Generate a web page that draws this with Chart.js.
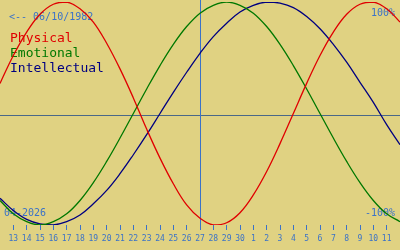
<!DOCTYPE html>
<html lang="en">
<head>
    <meta charset="UTF-8">
    <title>Biorhythm</title>
    <style>
        html, body { margin: 0; padding: 0; background: #e0d282; }
        #bioChart { display: block; }
    </style>
</head>
<body>
    <canvas id="bioChart" width="400" height="250"></canvas>

    <script src="https://cdn.jsdelivr.net/npm/chart.js"></script>
    <script>
        // days shown: 12 April -> 12 May 2026
        const days = ['12', '13', '14', '15', '16', '17', '18', '19', '20', '21', '22', '23', '24', '25', '26',
            '27', '28', '29', '30', '1', '2', '3', '4', '5', '6', '7', '8', '9', '10', '11', '12'];
        const todayIndex = 15;

        // values in percent
        const physical = [27, 52, 73, 89, 98, 100, 94, 82, 63, 40, 14, -14, -40, -63, -82, -94,
            -100, -98, -89, -73, -52, -27, 0, 27, 52, 73, 89, 98, 100, 94, 82];
        const emotional = [-78, -90, -97, -100, -97, -90, -78, -62, -43, -22, 0, 22, 43, 62, 78, 90,
            97, 100, 97, 90, 78, 62, 43, 22, 0, -22, -43, -62, -78, -90, -97];
        const intellectual = [-76, -87, -95, -99, -100, -97, -91, -81, -69, -54, -37, -19, 0, 19, 37, 54,
            69, 81, 91, 97, 100, 99, 95, 87, 76, 62, 46, 28, 10, -10, -28];

        const birthText = '<-- 06/10/1982';
        const monthText = '04-2026';
        const topText = '100%';
        const bottomText = '-100%';

        const blue = '#3a72c8';
        const colRed = '#e00000';
        const colGreen = '#007800';
        const colNavy = '#000080';
        const mono = '"DejaVu Sans Mono", monospace';

        // background, axis lines and captions
        const decor = {
            id: 'decor',
            beforeDraw(chart) {
                const ctx = chart.ctx;
                ctx.save();
                ctx.fillStyle = '#e0d282';
                ctx.fillRect(0, 0, chart.width, chart.height);
                ctx.restore();
            },
            beforeDatasetsDraw(chart) {
                const ctx = chart.ctx;
                const area = chart.chartArea;
                const xs = chart.scales.x, ys = chart.scales.y;
                ctx.save();

                // zero line (sits a pixel or so under the middle in the original)
                const y0 = Math.round(ys.getPixelForValue(0)) + 1.5;
                ctx.strokeStyle = '#4a6888';
                ctx.lineWidth = 1;
                ctx.beginPath();
                ctx.moveTo(0, y0);
                ctx.lineTo(chart.width, y0);
                ctx.stroke();

                // today
                const xt = Math.round(xs.getPixelForValue(todayIndex)) + 0.5;
                ctx.strokeStyle = blue;
                ctx.beginPath();
                ctx.moveTo(xt, 0);
                ctx.lineTo(xt, area.bottom + 5);
                ctx.stroke();

                // captions
                ctx.font = '10px ' + mono;
                ctx.fillStyle = blue;
                ctx.textAlign = 'left';
                ctx.fillText(birthText, 9, 20);
                ctx.fillText(monthText, 4, 216);
                ctx.textAlign = 'right';
                ctx.fillText(topText, 395, 16);
                ctx.fillText(bottomText, 395, 216);

                ctx.textAlign = 'left';
                ctx.font = '13px ' + mono;
                ctx.fillStyle = colRed;
                ctx.fillText('Physical', 10, 42);
                ctx.fillStyle = colGreen;
                ctx.fillText('Emotional', 10, 57);
                ctx.fillStyle = colNavy;
                ctx.fillText('Intellectual', 10, 72);
                ctx.restore();
            }
        };

        const line = (label, data, color) => ({
            label: label,
            data: data,
            borderColor: color,
            borderWidth: 1.3,
            pointRadius: 0,
            tension: 0.4,
            fill: false
        });

        new Chart(document.getElementById('bioChart'), {
            type: 'line',
            data: {
                labels: days,
                datasets: [
                    line('Physical', physical, colRed),
                    line('Emotional', emotional, colGreen),
                    line('Intellectual', intellectual, colNavy)
                ]
            },
            options: {
                responsive: false,
                animation: false,
                layout: { padding: { top: 2, left: 0, right: 0, bottom: 0 } },
                plugins: {
                    legend: { display: false },
                    tooltip: { enabled: false }
                },
                scales: {
                    x: {
                        grid: {
                            drawOnChartArea: false,
                            drawTicks: true,
                            tickLength: 5,
                            lineWidth: 1,
                            color: c => (c.index === 0 || c.index === days.length - 1) ? 'rgba(0,0,0,0)' : blue
                        },
                        border: { display: false },
                        ticks: {
                            color: blue,
                            font: { family: mono, size: 8 },
                            padding: 4,
                            maxRotation: 0,
                            autoSkip: false,
                            callback: (v, i) => (i === 0 || i === days.length - 1) ? '' : days[i]
                        },
                        afterFit: s => {
                            s.height = 25;
                            s.paddingLeft = 0;
                            s.paddingRight = 0;
                        }
                    },
                    y: { display: false, min: -100, max: 100 }
                }
            },
            plugins: [decor]
        });
    </script>
</body>
</html>
